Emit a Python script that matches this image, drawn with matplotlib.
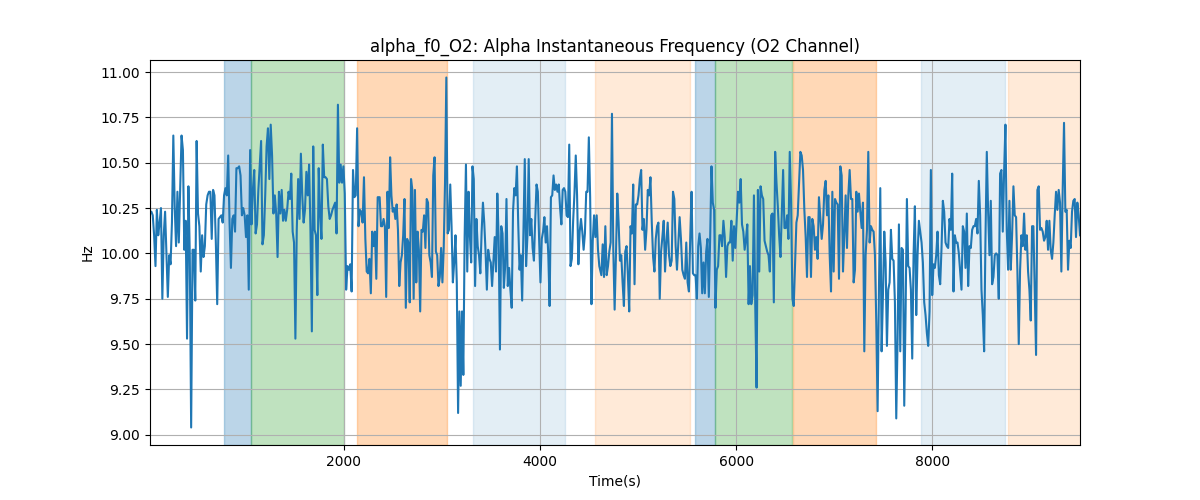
import numpy as np
import matplotlib
matplotlib.use("Agg")
import matplotlib.pyplot as plt

# alpha frequency, in four stretches of time
seg1_t = (27, 2347)
seg1 = [10.23, 10.23, 10.21, 10.10, 9.93, 10.24, 10.10, 10.17, 10.25, 9.75, 10.10, 10.23, 9.99, 9.76, 9.99, 9.94,
        10.17, 10.65, 10.26, 10.04, 10.34, 10.06, 10.35, 10.65, 10.57, 10.02, 10.18, 9.53, 10.37, 10.00, 9.04, 10.02,
        10.02, 9.74, 10.62, 10.22, 10.15, 9.90, 10.10, 9.98, 10.04, 10.27, 10.32, 10.34, 10.34, 10.08, 10.35, 10.32,
        10.06, 9.72, 10.19, 10.20, 10.21, 10.17, 10.32, 10.36, 10.32, 10.54, 10.17, 9.92, 10.19, 10.21, 10.12, 10.47,
        10.47, 10.48, 10.43, 10.21, 10.25, 10.21, 10.09, 10.21, 9.80, 10.57, 10.16, 10.35, 10.46, 10.11, 10.16, 10.35,
        10.48, 10.62, 10.05, 10.10, 10.32, 10.59, 10.69, 10.41, 10.71, 10.54, 10.22, 10.32, 10.22, 9.98, 10.34, 10.22,
        10.35, 10.18, 10.24, 10.18, 10.24, 10.34, 10.30, 10.44, 10.12, 10.06, 9.53, 10.13, 10.41, 10.19, 10.55, 10.32,
        10.17, 10.24, 10.45, 10.32, 10.49, 10.12, 9.57, 10.59, 10.13, 10.10, 9.77, 10.47, 10.22, 10.08, 10.60, 10.42,
        10.42, 10.41, 10.26, 10.19, 10.21, 10.24, 10.26, 10.28, 10.11, 10.82, 10.39, 10.49, 10.39, 10.48, 10.33, 9.80,
        9.93, 9.91, 9.94, 9.79, 10.46, 10.31, 10.32, 10.69, 10.15, 10.24, 10.23, 10.17, 10.42, 10.08, 9.90, 9.89,
        9.97, 9.78, 10.12, 10.04, 10.12, 9.86, 10.31]

seg2_t = (2367, 4605)
seg2 = [10.31, 10.15, 10.15, 10.19, 10.15, 9.76, 10.34, 10.14, 10.53, 10.32, 10.23, 10.25, 10.19, 10.27, 10.13, 9.82,
        9.95, 9.99, 10.10, 10.30, 9.70, 10.08, 10.06, 9.73, 10.41, 10.35, 9.75, 10.35, 9.84, 10.12, 10.02, 9.68,
        10.13, 10.12, 10.21, 10.03, 10.30, 10.28, 9.99, 9.95, 9.87, 10.43, 10.53, 10.01, 9.99, 9.82, 9.87, 10.03,
        9.84, 10.03, 10.39, 10.97, 10.11, 10.13, 10.38, 10.15, 9.84, 9.95, 10.10, 9.84, 9.12, 9.68, 9.27, 9.68,
        9.33, 10.09, 10.49, 9.90, 10.34, 10.10, 9.95, 10.48, 10.41, 9.82, 10.19, 10.04, 9.99, 9.89, 10.12, 10.28,
        10.17, 10.01, 9.80, 10.02, 9.97, 9.95, 9.82, 9.95, 10.09, 9.90, 10.33, 10.09, 9.47, 10.15, 10.11, 9.81,
        9.93, 10.30, 9.82, 9.92, 9.80, 9.70, 10.23, 10.36, 10.32, 10.48, 10.16, 9.91, 9.99, 9.74, 10.13, 10.52,
        9.93, 10.09, 10.52, 10.10, 10.19, 10.03, 9.96, 10.19, 10.38, 10.34, 10.07, 9.84, 10.08, 10.12, 10.20, 10.06,
        10.15, 9.99, 9.71, 10.31, 10.32, 10.43, 10.35, 10.38, 10.34, 10.38, 10.25, 10.16, 10.35, 10.36, 10.34, 10.21,
        10.20, 10.60, 9.93, 9.97, 10.18, 10.33, 10.54, 10.32, 9.94, 10.12, 10.19, 10.12, 10.02, 10.11, 10.34, 10.34,
        10.64, 10.31, 9.72, 10.07, 10.21, 10.09, 10.21, 10.02, 9.93]

seg3_t = (4626, 6843)
seg3 = [9.88, 10.05, 9.87, 10.15, 9.88, 9.93, 10.01, 10.06, 10.77, 10.02, 9.69, 9.99, 10.33, 10.17, 9.96, 9.99,
        9.84, 9.71, 10.01, 10.04, 9.88, 9.68, 10.15, 10.11, 10.38, 9.83, 10.27, 10.27, 10.32, 10.41, 10.46, 10.13,
        10.19, 10.02, 10.13, 10.35, 10.32, 10.42, 10.17, 9.98, 9.90, 10.08, 10.15, 10.17, 9.75, 10.01, 10.09, 10.18,
        9.90, 10.06, 10.17, 9.99, 9.93, 9.96, 10.34, 10.30, 10.04, 9.91, 10.06, 10.20, 10.08, 9.91, 9.88, 9.86,
        10.06, 9.84, 9.79, 10.09, 10.34, 9.89, 9.88, 9.88, 9.75, 10.04, 10.11, 10.03, 9.78, 9.95, 9.78, 10.01,
        10.08, 9.76, 10.08, 10.48, 10.28, 10.24, 9.70, 9.91, 9.93, 10.10, 10.10, 10.04, 10.18, 10.09, 9.87, 10.04,
        10.06, 10.06, 10.18, 9.96, 10.15, 10.03, 10.19, 10.34, 10.28, 10.41, 10.16, 10.12, 10.02, 10.08, 10.16, 9.72,
        9.93, 9.72, 9.77, 10.32, 9.71, 9.26, 10.35, 9.90, 10.37, 10.32, 10.30, 10.07, 10.04, 10.01, 9.99, 9.90,
        10.21, 10.22, 9.73, 10.56, 10.39, 10.26, 10.10, 9.98, 10.23, 10.46, 10.14, 10.14, 10.21, 10.08, 10.56, 10.28,
        9.75, 9.71, 9.95, 10.17, 10.21, 10.39, 10.56, 10.54, 10.46, 10.24, 10.09, 9.87, 10.20, 10.20, 9.87, 10.19,
        10.15, 10.02, 10.09, 9.97, 10.31]

seg4_t = (6871, 9503)
seg4 = [10.08, 10.16, 10.35, 10.40, 10.21, 10.32, 9.99, 9.79, 10.34, 9.90, 10.30, 10.28, 10.27, 9.86, 10.48, 10.43,
        9.90, 10.10, 10.32, 10.03, 10.32, 10.46, 10.30, 10.30, 9.84, 9.91, 10.34, 10.23, 10.33, 10.23, 10.14, 10.28,
        9.46, 9.99, 10.13, 10.56, 10.06, 10.15, 10.13, 10.12, 9.99, 9.62, 9.13, 9.80, 10.36, 9.46, 9.77, 10.12,
        9.95, 9.49, 9.80, 9.84, 10.13, 9.97, 9.96, 9.73, 9.09, 9.53, 10.16, 9.46, 10.03, 10.02, 9.16, 9.67,
        10.30, 9.93, 9.92, 9.80, 9.42, 9.99, 10.26, 9.66, 9.99, 10.18, 10.12, 10.06, 9.95, 9.73, 9.66, 9.56,
        9.49, 9.68, 10.46, 9.77, 9.94, 9.92, 9.99, 10.12, 9.88, 9.83, 10.03, 10.29, 10.23, 10.06, 10.04, 10.03,
        10.19, 10.13, 10.44, 9.79, 10.10, 10.06, 10.06, 10.00, 9.90, 9.80, 10.15, 10.12, 9.92, 10.22, 9.82, 10.04,
        10.03, 10.13, 10.15, 10.15, 10.19, 10.11, 10.40, 10.21, 9.80, 9.66, 9.46, 10.08, 10.56, 10.23, 9.99, 10.29,
        9.83, 9.87, 9.99, 10.00, 9.99, 9.75, 10.44, 10.46, 10.12, 10.45, 10.71, 10.13, 9.91, 10.29, 9.91, 10.10,
        10.37, 10.21, 10.20, 9.90, 9.50, 9.91, 10.10, 10.04, 10.22, 10.02, 10.10, 9.90, 9.80, 9.63, 10.15, 10.15,
        9.80, 9.44, 10.35, 10.37, 10.13, 10.14, 10.12, 10.07, 10.09, 10.18, 10.02, 10.18, 10.02, 9.97, 10.06, 10.21,
        10.34, 10.24, 10.35, 10.28, 9.90, 10.35, 10.72, 10.23, 10.24, 9.91, 10.07, 10.03, 10.23, 10.29, 10.30, 10.09,
        10.28, 10.21, 10.10]

# shaded stages: (start, end, colour, alpha)
span_start = [786, 1061, 2133, 3316, 4561, 5582, 5786, 6582, 7888, 8765]
span_end = [1061, 2000, 3051, 4255, 5531, 5786, 6571, 7429, 8735, 9600]
span_color = ['tab:blue', 'tab:green', 'tab:orange', 'tab:blue', 'tab:orange',
              'tab:blue', 'tab:green', 'tab:orange', 'tab:blue', 'tab:orange']
span_alpha = [0.3, 0.3, 0.3, 0.12, 0.16, 0.3, 0.3, 0.3, 0.12, 0.16]

t = np.concatenate([np.linspace(*seg1_t, len(seg1)), np.linspace(*seg2_t, len(seg2)),
                    np.linspace(*seg3_t, len(seg3)), np.linspace(*seg4_t, len(seg4))])
f0 = np.array(seg1 + seg2 + seg3 + seg4)

fig, ax = plt.subplots(figsize=(12, 5), dpi=100)
for s, e, c, a in zip(span_start, span_end, span_color, span_alpha):
    ax.axvspan(s, e, color=c, alpha=a)
ax.plot(t, f0, color='tab:blue', linewidth=1.5)
ax.set_xlim(t[0], t[-1])
ax.grid(True)
ax.set_title("alpha_f0_O2: Alpha Instantaneous Frequency (O2 Channel)")
ax.set_xlabel("Time(s)")
ax.set_ylabel("Hz")
fig.savefig("out.png")
